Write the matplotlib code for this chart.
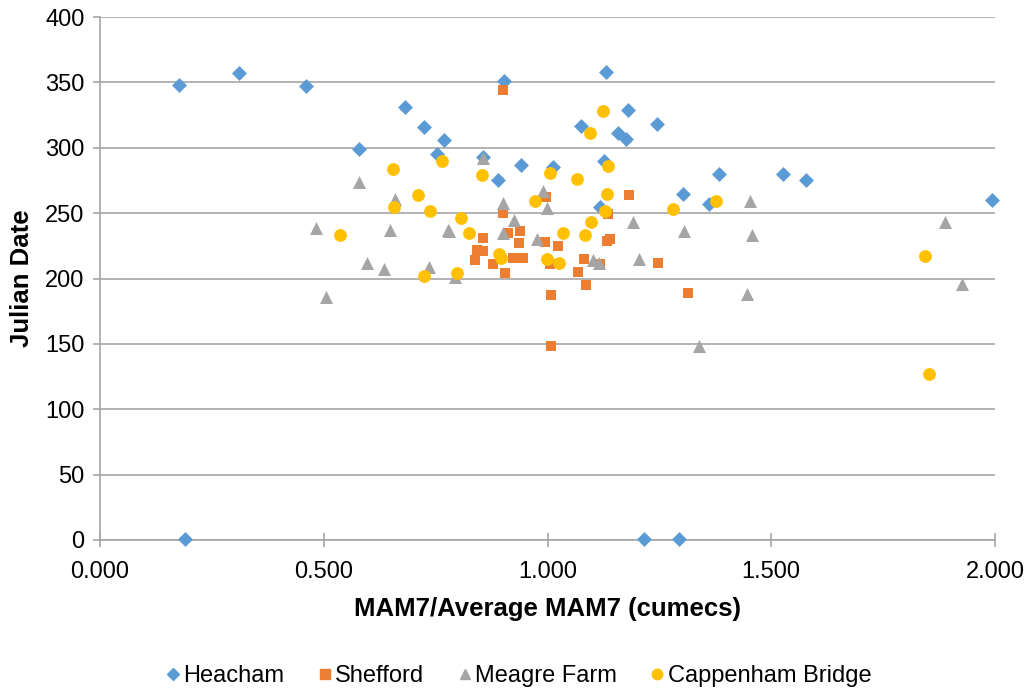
import matplotlib
matplotlib.use("Agg")
import matplotlib.pyplot as plt
from matplotlib.lines import Line2D

plt.rcParams['font.family'] = ['Liberation Sans', 'DejaVu Sans']

heacham_x = [0.177, 0.311, 0.460, 0.579, 0.682, 0.724, 0.753, 0.769, 0.903, 1.131, 1.180, 1.075,
             1.157, 1.175, 1.245, 0.856, 0.941, 1.012, 0.889, 1.126, 1.383, 1.303, 1.361, 1.117,
             1.526, 1.578, 1.993, 0.190, 1.215, 1.294]
heacham_y = [348, 357, 347, 299, 331, 316, 295, 306, 351, 358, 329, 317,
             311, 307, 318, 293, 287, 285, 275, 290, 280, 265, 257, 255,
             280, 275, 260, 1, 1, 1]

shefford_x = [0.901, 0.997, 1.182, 0.901, 1.136, 0.939, 0.912, 0.856, 0.936, 0.994, 1.024, 1.140,
              1.133, 0.842, 0.856, 0.838, 0.878, 0.923, 0.945, 0.905, 1.006, 1.082, 1.117, 1.068,
              1.086, 1.247, 1.008, 1.314, 1.008]
shefford_y = [344, 262, 264, 250, 249, 236, 235, 231, 227, 228, 225, 230,
              229, 222, 221, 214, 211, 216, 216, 204, 211, 215, 211, 205,
              195, 212, 187, 189, 148]

meagre_x = [0.579, 0.659, 0.483, 0.648, 0.778, 0.597, 0.635, 0.735, 0.505, 0.856, 0.990, 0.901,
            0.999, 0.925, 1.191, 0.780, 0.901, 0.976, 1.305, 1.102, 1.115, 1.204, 0.793, 1.339,
            1.452, 1.457, 1.445, 1.888, 1.926]
meagre_y = [274, 261, 239, 237, 237, 212, 207, 209, 186, 292, 267, 258,
            254, 245, 243, 236, 235, 230, 236, 214, 212, 215, 201, 148,
            259, 233, 188, 243, 196]

capp_x = [0.655, 0.764, 0.711, 0.657, 0.737, 0.536, 0.724, 0.854, 1.124, 1.095, 1.006, 1.066,
          1.135, 1.133, 1.280, 1.376, 0.972, 1.128, 0.807, 1.097, 0.825, 1.035, 1.084, 0.892,
          0.896, 0.999, 1.026, 0.798, 1.843, 1.853]
capp_y = [284, 290, 264, 255, 252, 233, 202, 279, 328, 311, 281, 276,
          286, 265, 253, 259, 259, 252, 246, 243, 235, 235, 233, 219,
          216, 215, 212, 204, 217, 127]

series = [
    ("Heacham", heacham_x, heacham_y, "D", "#5B9BD5", 58),
    ("Shefford", shefford_x, shefford_y, "s", "#ED7D31", 52),
    ("Meagre Farm", meagre_x, meagre_y, "^", "#A5A5A5", 88),
    ("Cappenham Bridge", capp_x, capp_y, "o", "#FFC000", 85),
]

fig = plt.figure(figsize=(10.35, 6.93), dpi=100)
ax = fig.add_axes([100/1035, 1 - 540/693, 895/1035, 523/693])

for name, xs, ys, m, c, s in series:
    ax.scatter(xs, ys, marker=m, s=s, color=c, linewidths=0, zorder=3, label=name, clip_on=False)

ax.set_xlim(0, 2.0)
ax.set_ylim(0, 400)
ax.set_xticks([0, 0.5, 1.0, 1.5, 2.0])
ax.set_xticklabels(["0.000", "0.500", "1.000", "1.500", "2.000"])
ax.set_yticks(range(0, 401, 50))
ax.yaxis.grid(True, color="#A6A6A6", linewidth=1.2)
ax.set_axisbelow(True)
for side in ["top", "right"]:
    ax.spines[side].set_visible(False)
for side in ["left", "bottom"]:
    ax.spines[side].set_color("#A6A6A6")
    ax.spines[side].set_linewidth(1.2)
ax.tick_params(axis="x", direction="inout", length=10, width=1.2, color="#A6A6A6",
               labelsize=17, pad=10, labelcolor="#000000")
ax.tick_params(axis="y", direction="out", length=5, width=1.2, color="#A6A6A6",
               labelsize=17, pad=6, labelcolor="#000000")

ax.set_xlabel("MAM7/Average MAM7 (cumecs)", fontsize=18.5, fontweight="bold", labelpad=10)
ax.set_ylabel("Julian Date", fontsize=18.5, fontweight="bold", labelpad=8)

handles = [Line2D([], [], linestyle="none", marker=m, color=c, markersize=ms)
           for (name, xs, ys, m, c, s), ms in zip(series, [6.5, 6.5, 6.5, 7.5])]
fig.legend(handles, [sr[0] for sr in series], loc="center", bbox_to_anchor=(0.5, 1 - 676/693),
           ncol=4, frameon=False, fontsize=17, handletextpad=0.05, columnspacing=1.3,
           handlelength=0.8)

fig.savefig("out.png", dpi=100)
